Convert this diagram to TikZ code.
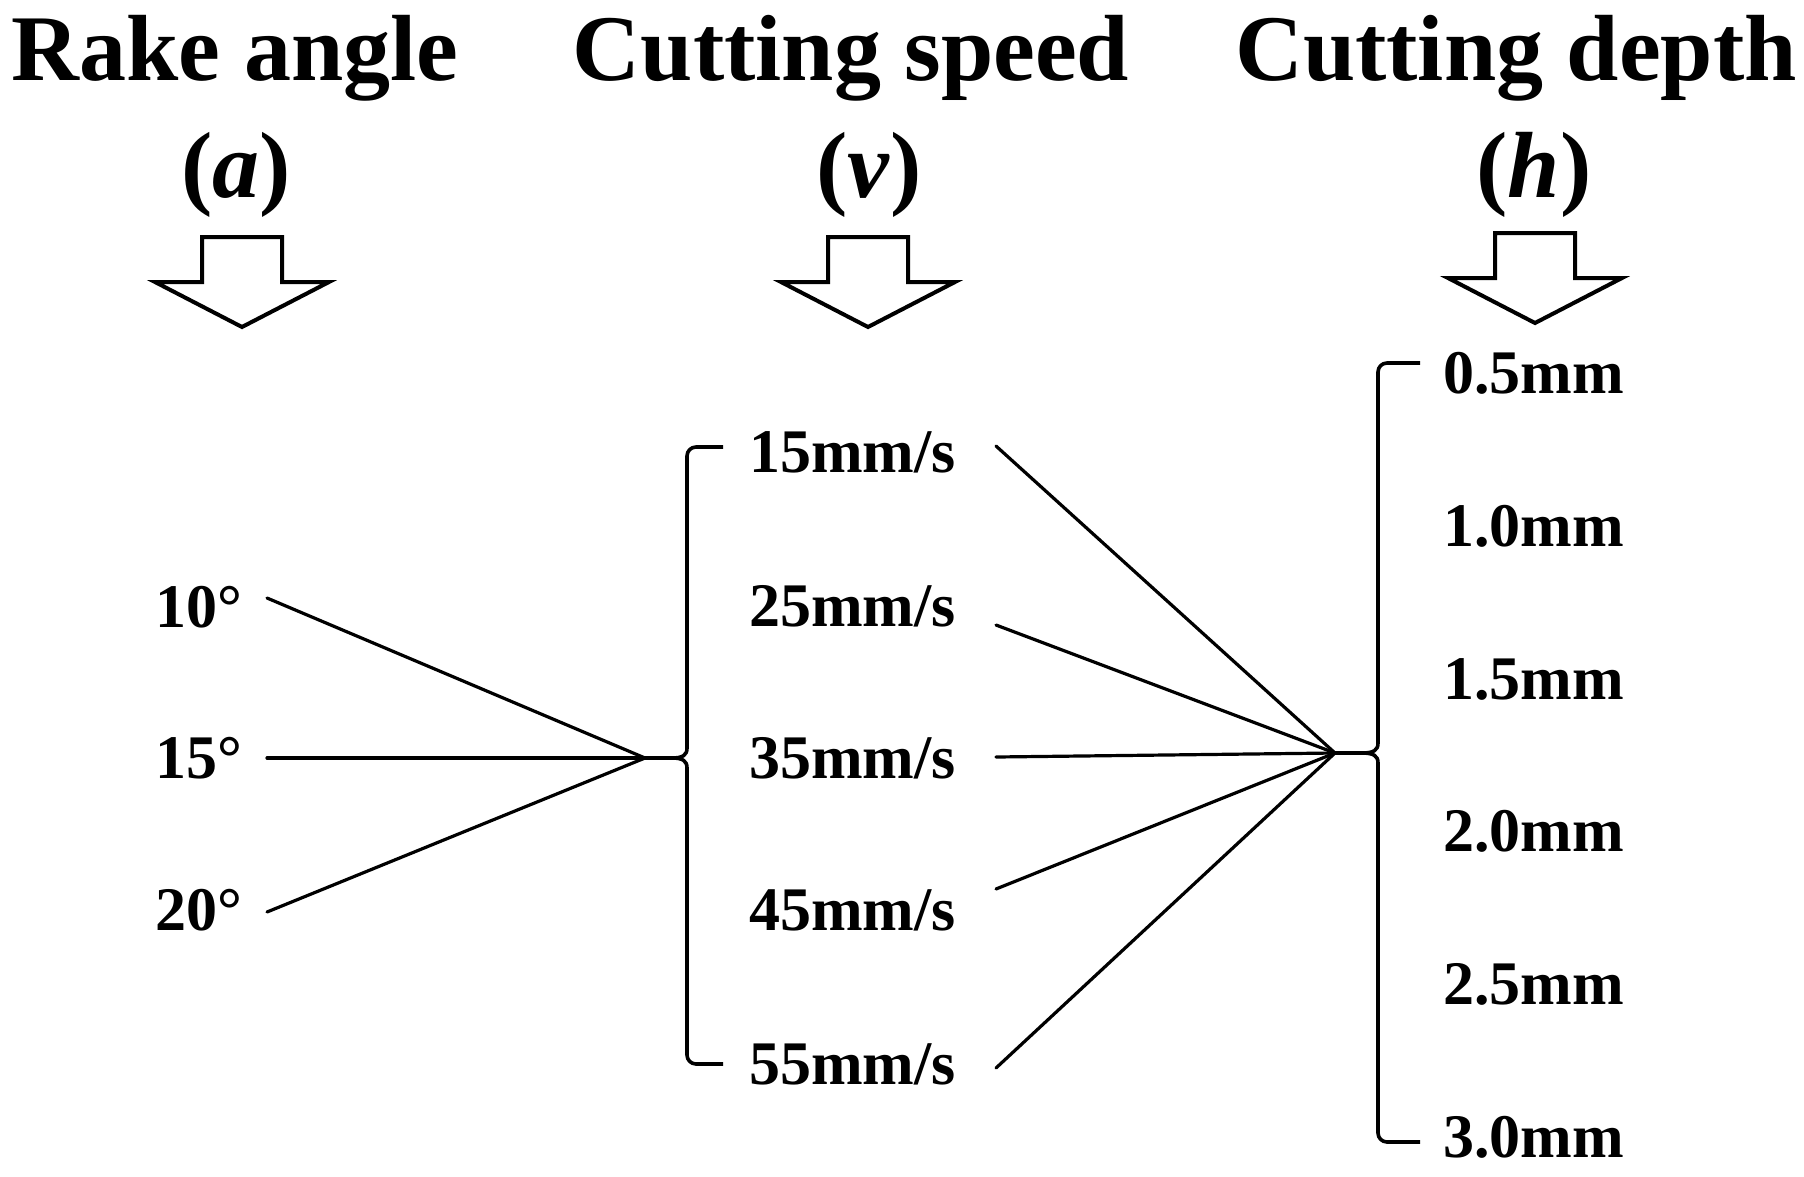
\documentclass[tikz,border=0pt]{standalone}
\usepackage{fontspec}
\setmainfont{Liberation Serif}
\begin{document}
\begin{tikzpicture}[x=1pt,y=-1pt,
  title/.style={font=\fontsize{94}{100}\selectfont\bfseries, anchor=base, inner sep=0pt},
  lab/.style={font=\fontsize{62}{66}\selectfont\bfseries, anchor=base west, inner sep=0pt},
  conn/.style={line width=3.2pt, line cap=round},
  bracel/.style={line width=3.6pt, line join=round},
  arrowline/.style={line width=4pt, line join=miter, fill=white},
  fatarrow/.pic={\draw[arrowline] (-40,0) -- (40,0) -- (40,45) -- (87,45) -- (0,90) -- (-87,45) -- (-40,45) -- cycle;}
]
\useasboundingbox (0,0) rectangle (1804,1176);

% titles
\node[title] (t1) at (235,80) {Rake angle};
\node[title] (t1s) at (236,197) {(\textit{a})};
\node[title] (t2) at (851,80) {Cutting speed};
\node[title] (t2s) at (869,197) {(\textit{v})};
\node[title] (t3) at (1516,80) {Cutting depth};
\node[title] (t3s) at (1534,197) {(\textit{h})};

% arrows
\pic at (242,237) {fatarrow};
\pic at (868,237) {fatarrow};
\pic at (1535,233) {fatarrow};

% column 1 labels
\node[lab] (a1) at (155,627) {10°};
\node[lab] (a2) at (155,778) {15°};
\node[lab] (a3) at (155,930) {20°};

% column 2 labels
\node[lab] (v1) at (749,472) {15mm/s};
\node[lab] (v2) at (749,626) {25mm/s};
\node[lab] (v3) at (749,778) {35mm/s};
\node[lab] (v4) at (749,930) {45mm/s};
\node[lab] (v5) at (749,1084) {55mm/s};

% column 3 labels
\node[lab] (h1) at (1443,393) {0.5mm};
\node[lab] (h2) at (1443,546) {1.0mm};
\node[lab] (h3) at (1443,699) {1.5mm};
\node[lab] (h4) at (1443,851) {2.0mm};
\node[lab] (h5) at (1443,1004) {2.5mm};
\node[lab] (h6) at (1443,1157) {3.0mm};

% connector points
\coordinate (sa1) at (267,598);
\coordinate (sa2) at (267,758);
\coordinate (sa3) at (267,912);
\coordinate (c1) at (645,758);
\coordinate (sv1) at (996,446);
\coordinate (sv2) at (996,625);
\coordinate (sv3) at (996,757);
\coordinate (sv4) at (996,889);
\coordinate (sv5) at (996,1068);
\coordinate (c2) at (1335,753);

% connectors
\foreach \s in {sa1,sa2,sa3} \draw[conn] (\s) -- (c1);
\foreach \s in {sv1,sv2,sv3,sv4,sv5} \draw[conn] (\s) -- (c2);

% brace column 2
\draw[bracel, rounded corners=9pt] (723,447) -| (687,700);
\draw[bracel] (687,690) -- (687,748) .. controls (687,755) and (683,758) .. (672,758) -- (c1);
\draw[bracel] (c1) -- (672,758) .. controls (683,758) and (687,761) .. (687,768) -- (687,820);
\draw[bracel, rounded corners=9pt] (687,810) |- (723,1064);

% brace column 3
\draw[bracel, rounded corners=9pt] (1420,363) -| (1378,600);
\draw[bracel] (1378,590) -- (1378,743) .. controls (1378,750) and (1374,753) .. (1362,753) -- (c2);
\draw[bracel] (c2) -- (1362,753) .. controls (1374,753) and (1378,756) .. (1378,763) -- (1378,900);
\draw[bracel, rounded corners=9pt] (1378,890) |- (1420,1142);
\end{tikzpicture}
\end{document}
